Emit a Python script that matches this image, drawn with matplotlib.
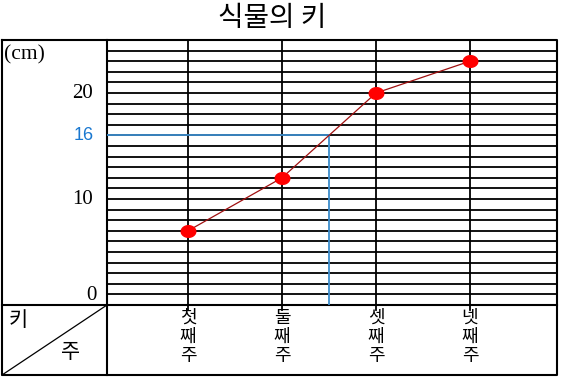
import matplotlib
matplotlib.use('Agg')
import matplotlib.pyplot as plt
import numpy as np
from matplotlib.transforms import blended_transform_factory as blend

# ---- data ----
title = "식물의 키"
weeks = ["첫째주", "둘째주", "셋째주", "넷째주"]
heights = [7, 12, 20, 23]
y_ticks = [0, 10, 20]
y_tick_labels = ["0", "10", "20"]
highlight = 16
unit = "(cm)"
row_label = "키"
col_label = "주"
y_max = 25

# ---- layout (pixels) ----
W, H = 561, 383
L, R, T, B = 107, 557, 40, 305
TB, LB = 375, 2
KR = ['Noto Sans CJK KR', 'DejaVu Sans']

fig = plt.figure(figsize=(W / 100, H / 100), dpi=100)
fig.patch.set_facecolor('white')

ov = fig.add_axes([0, 0, 1, 1], zorder=0)
ov.set_xlim(0, W)
ov.set_ylim(H, 0)
ov.axis('off')

ax = fig.add_axes([L / W, 1 - B / H, (R - L) / W, (B - T) / H], zorder=1)
ax.patch.set_alpha(0)
ax.set_ylim(0, y_max)
n = len(weeks)
ax.set_xlim(-0.862, n - 1 + 0.926)
ax.axis('off')

# frame and table lines
ov.plot([LB, R, R, LB, LB], [T, T, TB, TB, T], color='black', lw=1.5, solid_capstyle='projecting')
ov.plot([L, L], [T, TB], color='black', lw=1.5)
ov.plot([LB, R], [B, B], color='black', lw=1.5)
ov.plot([L, LB], [B, TB], color='black', lw=0.9)

# grid
for v in range(1, y_max):
    ax.axhline(v, color='black', lw=1.3, zorder=1)
for i in range(n):
    ax.axvline(i, ymin=-0.02, ymax=1, color='black', lw=1.3, clip_on=False, zorder=1)

# highlight lines
x16 = np.interp(highlight, heights, np.arange(n))
blue = '#3d8dcc'
ax.plot([ax.get_xlim()[0], x16], [highlight, highlight], color=blue, lw=1.3, zorder=2)
ax.plot([x16, x16], [highlight, 0], color=blue, lw=1.3, zorder=2)

# data line
theta = np.linspace(0, 2 * np.pi, 40)
ell = np.column_stack([np.cos(theta), 0.8 * np.sin(theta)])
ax.plot(np.arange(n), heights, color='#a01010', lw=0.9, zorder=3)
ax.plot(np.arange(n), heights, linestyle='none', marker=ell, ms=10.5,
        color='#ff0000', mec='#ff0000', zorder=4)

# y labels
ty = blend(ov.transData, ax.transData)
for v, lab in zip(y_ticks, y_tick_labels):
    if v == 0:
        ax.text(97, v, lab, transform=ty, ha='right', va='bottom',
                fontsize=15, family='Liberation Serif')
    else:
        ax.text(93, v, lab, transform=ty, ha='right', va='center',
                fontsize=15, family='Liberation Serif')
ax.text(94, highlight, str(highlight), transform=ty, ha='right', va='center',
        fontsize=13, family='Liberation Sans', color='#1a78d0')

# category labels (vertical)
tx = blend(ax.transData, ov.transData)
for i, w in enumerate(weeks):
    for j, ch in enumerate(w):
        ax.text(i, 318 + 19 * j, ch, transform=tx, ha='center', va='center',
                fontsize=13, family=KR)

# texts in pixel space
ov.text(272, 18, title, ha='center', va='center', fontsize=20, family=KR)
ov.text(4, 55, unit, ha='left', va='center', fontsize=15.5, family='Liberation Serif')
ov.text(18, 320, row_label, ha='center', va='center', fontsize=15, family=KR)
ov.text(71, 352, col_label, ha='center', va='center', fontsize=15, family=KR)

fig.savefig('out.png', dpi=100, facecolor='white')
